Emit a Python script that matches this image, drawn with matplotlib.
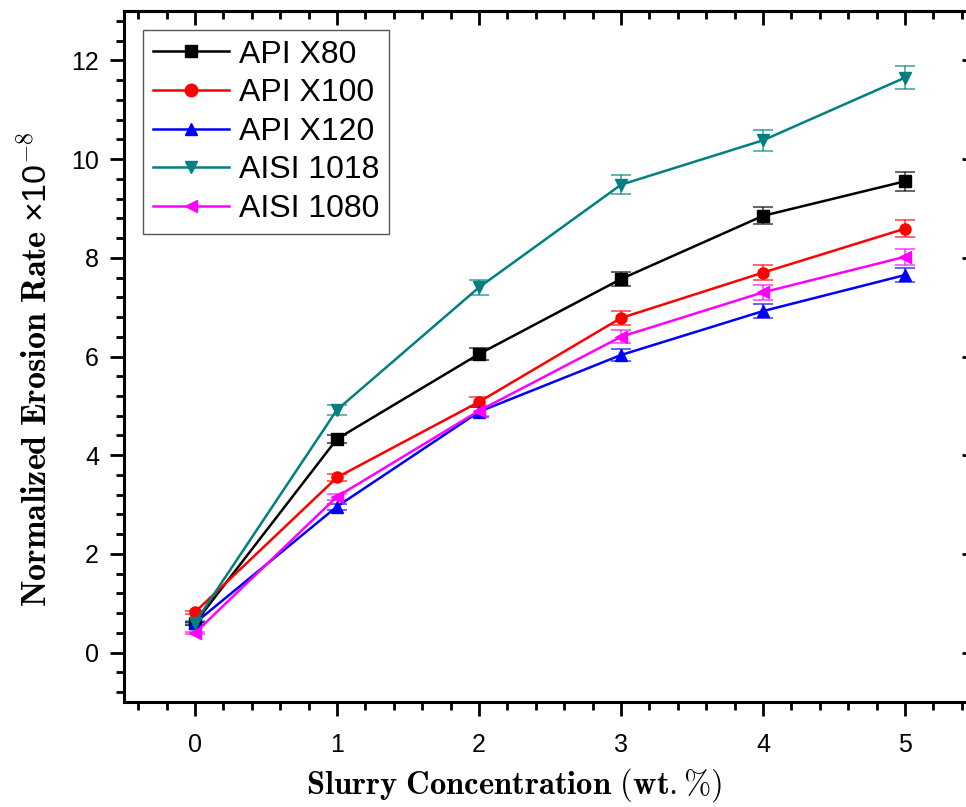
import matplotlib
matplotlib.use("Agg")
import matplotlib.pyplot as plt
from matplotlib.lines import Line2D
from matplotlib.ticker import MultipleLocator

plt.rcParams["mathtext.fontset"] = "cm"

# 浆料浓度 (wt.%)
concentration = [0, 1, 2, 3, 4, 5]

# 各材料归一化冲蚀速率 (×1e-8) 及误差
api_x80 = [0.60, 4.33, 6.05, 7.57, 8.85, 9.55]
api_x80_err = [0.03, 0.08, 0.12, 0.15, 0.17, 0.19]
api_x100 = [0.82, 3.55, 5.08, 6.78, 7.70, 8.59]
api_x100_err = [0.03, 0.07, 0.10, 0.14, 0.15, 0.17]
api_x120 = [0.60, 2.96, 4.88, 6.03, 6.92, 7.65]
api_x120_err = [0.03, 0.06, 0.10, 0.12, 0.14, 0.15]
aisi_1018 = [0.61, 4.92, 7.40, 9.48, 10.38, 11.65]
aisi_1018_err = [0.03, 0.10, 0.15, 0.19, 0.21, 0.23]
aisi_1080 = [0.40, 3.16, 4.90, 6.40, 7.30, 8.02]
aisi_1080_err = [0.02, 0.06, 0.10, 0.13, 0.15, 0.16]

labels = ["API X80", "API X100", "API X120", "AISI 1018", "AISI 1080"]
series = [api_x80, api_x100, api_x120, aisi_1018, aisi_1080]
errors = [api_x80_err, api_x100_err, api_x120_err, aisi_1018_err, aisi_1080_err]
colors = ["#000000", "#FF0000", "#0000FF", "#008080", "#FF00FF"]
markers = ["s", "o", "^", "v", "<"]

fig = plt.figure(figsize=(9.66, 8.07), dpi=100)
ax = fig.add_axes([124 / 966, 105 / 807, 852 / 966, 691 / 807])

handles = []
for y, err, lab, col, mk in zip(series, errors, labels, colors, markers):
    ebar_col = matplotlib.colors.to_rgba(col, 0.65)
    ax.errorbar(concentration, y, yerr=err, fmt="none", ecolor=ebar_col,
                elinewidth=1.3, capsize=7, capthick=1.3, zorder=2)
    ax.plot(concentration, y, color=col, marker=mk, markersize=8,
            linewidth=1.8, zorder=3)
    handles.append(Line2D([], [], color=col, marker=mk, markersize=9,
                          linewidth=1.8, label=lab))

ax.set_xlim(-0.5, 5.5)
ax.set_ylim(-1, 13)
ax.xaxis.set_major_locator(MultipleLocator(1))
ax.xaxis.set_minor_locator(MultipleLocator(0.2))
ax.yaxis.set_major_locator(MultipleLocator(2))
ax.yaxis.set_minor_locator(MultipleLocator(0.4))

tick_font = "Liberation Sans"
ax.tick_params(axis="both", which="major", length=10, width=2, labelsize=18)
ax.tick_params(axis="both", which="minor", length=6, width=2)
ax.tick_params(axis="x", which="both", direction="out", top=False)
ax.tick_params(axis="y", which="both", direction="out", right=False)
ax.tick_params(axis="x", which="major", pad=12)
ax.tick_params(axis="y", which="major", pad=8)
for lbl in ax.get_xticklabels() + ax.get_yticklabels():
    lbl.set_fontfamily(tick_font)

# 上、右坐标轴的内向刻度
ax_top = ax.secondary_xaxis("top")
ax_top.xaxis.set_major_locator(MultipleLocator(1))
ax_top.xaxis.set_minor_locator(MultipleLocator(0.2))
ax_top.tick_params(which="major", direction="in", length=10, width=2, labeltop=False)
ax_top.tick_params(which="minor", direction="in", length=6, width=2)
ax_top.spines["top"].set_linewidth(2.2)
ax_right = ax.secondary_yaxis("right")
ax_right.yaxis.set_major_locator(MultipleLocator(2))
ax_right.yaxis.set_minor_locator(MultipleLocator(0.4))
ax_right.tick_params(which="major", direction="in", length=10, width=2, labelright=False)
ax_right.tick_params(which="minor", direction="in", length=6, width=2)

for sp in ax.spines.values():
    sp.set_linewidth(2.2)

ax.set_xlabel(r"$\mathbf{Slurry\ Concentration\ (wt.\%)}$", fontsize=23.5)
ax.xaxis.set_label_coords(0.458, -0.093)
ax.set_ylabel(r"$\mathbf{Normalized\ Erosion\ Rate}$ ×10$^{\mathsf{-8}}$",
              fontsize=24.5, family="Liberation Sans")
ax.yaxis.set_label_coords(-0.083, 0.482)

leg = ax.legend(handles=handles, loc="upper left", bbox_to_anchor=(0.0223, 0.9725),
                prop={"family": "Liberation Sans", "size": 23},
                handlelength=2.4, handletextpad=0.3, labelspacing=0.27,
                borderpad=0.3, borderaxespad=0, fancybox=False, framealpha=1)
leg.get_frame().set_edgecolor("#555555")
leg.get_frame().set_linewidth(1.0)

fig.savefig("out.png", dpi=100)
